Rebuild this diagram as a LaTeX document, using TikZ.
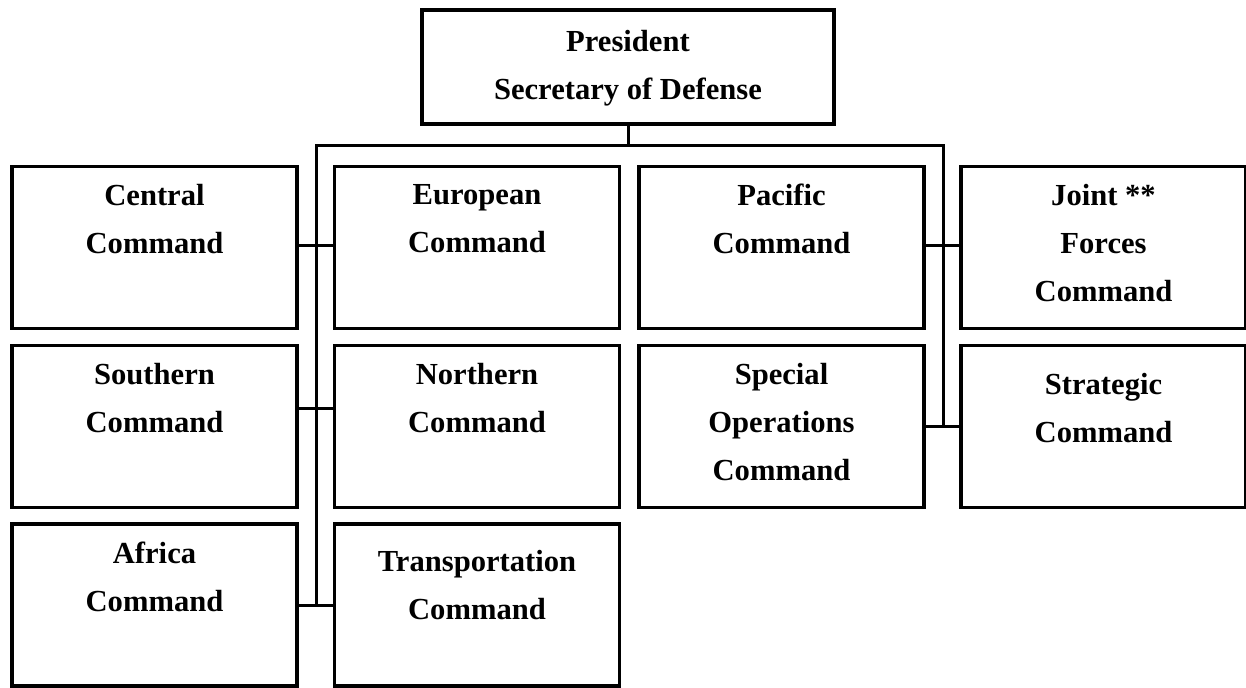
\documentclass[tikz,border=0pt]{standalone}
\usepackage{fontspec}
\setmainfont{Liberation Serif}
\usepackage{tikz}

\begin{document}
\begin{tikzpicture}[x=0.5pt,y=-0.5pt,
	box/.style={draw, line width=1.6pt, minimum width=142.5pt, minimum height=81pt, inner sep=0pt},
	txt/.style={anchor=north, inner sep=0pt, align=center, yshift=-9.5pt, font=\fontsize{15.3}{24}\selectfont\bfseries},
	link/.style={line width=1.5pt}]
\useasboundingbox (0,0) rectangle (1246,688);
\node[box, minimum width=206pt, minimum height=57pt, label={[txt, yshift=-1pt]90:President\\Secretary of Defense}] (pres) at (628,67) {};
\node[box, label={[txt]90:Central\\Command}] (central) at (154.5,247.5) {};
\node[box, label={[txt]90:European\\Command}] (european) at (477,247.5) {};
\node[box, label={[txt]90:Pacific\\Command}] (pacific) at (781.5,247.5) {};
\node[box, label={[txt]90:Joint **\\Forces\\Command}] (joint) at (1103.5,247.5) {};
\node[box, label={[txt]90:Southern\\Command}] (southern) at (154.5,426.5) {};
\node[box, label={[txt]90:Northern\\Command}] (northern) at (477,426.5) {};
\node[box, label={[txt]90:Special\\Operations\\Command}] (special) at (781.5,426.5) {};
\node[box, label={[txt, yshift=-5pt]90:Strategic\\Command}] (strategic) at (1103.5,426.5) {};
\node[box, label={[txt]90:Africa\\Command}] (africa) at (154.5,605) {};
\node[box, label={[txt, yshift=-4pt]90:Transportation\\Command}] (transport) at (477,605) {};
\coordinate (barL) at (316,146);
\coordinate (barR) at (943,146);
\draw[link] (pres.south) -- (pres.south |- barL);
\draw[link] (barR |- special.east) -- (barR) -- (barL) -- (barL |- africa.east);
\draw[link] ([yshift=1.2pt]central.east) -- ([yshift=1.2pt]european.west);
\draw[link] ([yshift=9pt]southern.east) -- ([yshift=9pt]northern.west);
\draw[link] (africa.east) -- (transport.west);
\draw[link] ([yshift=1.2pt]pacific.east) -- ([yshift=1.2pt]joint.west);
\draw[link] (special.east) -- (strategic.west);
\end{tikzpicture}
\end{document}
